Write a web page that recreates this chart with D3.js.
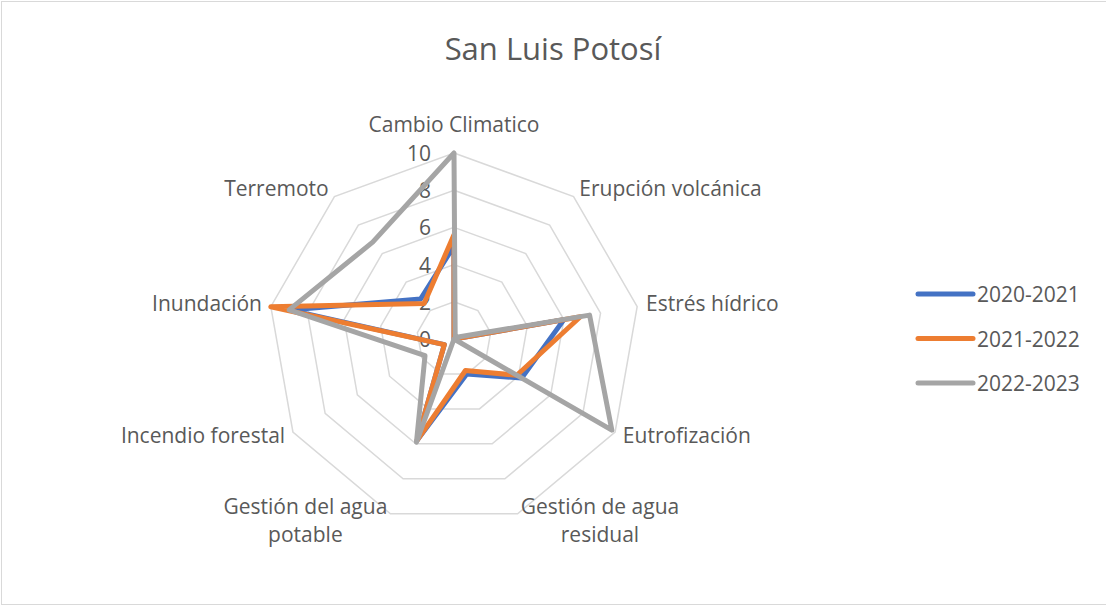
<!DOCTYPE html>
<html>
<head>
<meta charset="utf-8">
<script src="https://cdn.jsdelivr.net/npm/d3@7"></script>
<style>
  body { margin: 0; background: #fff; }
  svg { display: block; font-family: "Open Sans", sans-serif; }
</style>
</head>
<body>
<div id="chart"></div>
<script>
var width = 1106, height = 607;

// data
var categories = [
    ["Cambio Climatico"],
    ["Erupción volcánica"],
    ["Estrés hídrico"],
    ["Eutrofización"],
    ["Gestión de agua", "residual"],
    ["Gestión del agua", "potable"],
    ["Incendio forestal"],
    ["Inundación"],
    ["Terremoto"]
];
var seriesNames = ["2020-2021", "2021-2022", "2022-2023"];
var values2020 = [5, 0, 6, 4.2, 2, 5.8, 0.6, 9, 2.8];
var values2021 = [5.6, 0, 6.9, 3.9, 1.8, 5.8, 0.6, 10, 2.5];
var values2022 = [10, 0.1, 7.4, 9.8, 0, 5.9, 1.8, 9, 6.8];
var tickValues = [0, 2, 4, 6, 8, 10];
var colors = ["#4472C4", "#ED7D31", "#A5A5A5"];

var allSeries = [values2020, values2021, values2022];

var cx = 454, cy = 339, radius = 186;
var textColor = "#595959";

var svg = d3.select("#chart").append("svg")
    .attr("width", width)
    .attr("height", height);

// chart border
svg.append("rect")
    .attr("x", 1.5).attr("y", 1.5)
    .attr("width", width).attr("height", 603)
    .attr("fill", "#fff")
    .attr("stroke", "#D9D9D9")
    .attr("stroke-width", 1);

svg.append("text")
    .attr("x", width / 2)
    .attr("y", 48)
    .attr("text-anchor", "middle")
    .attr("dominant-baseline", "central")
    .style("font-size", "31px")
    .style("fill", textColor)
    .text("San Luis Potosí");

var r = d3.scaleLinear().domain([0, 10]).range([0, radius]);
var angle = d3.scaleLinear().domain([0, categories.length]).range([0, 2 * Math.PI]);

function px(i, v) { return cx + r(v) * Math.sin(angle(i)); }
function py(i, v) { return cy - r(v) * Math.cos(angle(i)); }

var g = svg.append("g");

// grid rings
g.selectAll("path.ring")
    .data(tickValues.filter(function(t) { return t > 0; }))
    .enter().append("path")
    .attr("class", "ring")
    .attr("fill", "none")
    .attr("stroke", "#D9D9D9")
    .attr("stroke-width", 1.5)
    .attr("d", function(t) {
        var pts = categories.map(function(c, i) { return [px(i, t), py(i, t)]; });
        return d3.line()(pts) + "Z";
    });

// tick labels
g.selectAll("text.tick")
    .data(tickValues)
    .enter().append("text")
    .attr("class", "tick")
    .attr("x", cx - 23)
    .attr("y", function(t) { return cy - r(t); })
    .attr("text-anchor", "end")
    .attr("dominant-baseline", "central")
    .style("font-size", "21px")
    .style("fill", textColor)
    .text(function(t) { return t; });

// series
var line = d3.line()
    .x(function(d) { return d[0]; })
    .y(function(d) { return d[1]; })
    .curve(d3.curveLinearClosed);

g.selectAll("path.series")
    .data(allSeries)
    .enter().append("path")
    .attr("class", "series")
    .attr("fill", "none")
    .attr("stroke", function(d, k) { return colors[k]; })
    .attr("stroke-width", 5)
    .attr("stroke-linejoin", "round")
    .attr("d", function(vals) {
        return line(vals.map(function(v, i) { return [px(i, v), py(i, v)]; }));
    });

// category labels
var labelR = 195, lineH = 28;
categories.forEach(function(lines, i) {
    var s = Math.sin(angle(i)), c = Math.cos(angle(i));
    var x = cx + labelR * s, y = cy - labelR * c;
    var t = g.append("text")
        .style("font-size", "21px")
        .style("fill", textColor)
        .attr("text-anchor", "middle")
        .attr("dominant-baseline", "central");
    lines.forEach(function(l, k) {
        t.append("tspan").attr("x", 0).attr("y", k * lineH).text(l);
    });
    var w = 0;
    t.selectAll("tspan").each(function() { w = Math.max(w, this.getComputedTextLength()); });
    var blockH = lines.length * lineH;
    var ox = x, oy = y - (lines.length - 1) * lineH / 2;
    if (s > 0.1) ox = x + w / 2;
    else if (s < -0.1) ox = x - w / 2;
    if (Math.abs(s) <= 0.1) oy = c > 0 ? y - blockH / 2 - 4 : y + 8;
    t.attr("transform", "translate(" + ox + "," + (oy - 2) + ")");
});

// legend
var legend = svg.append("g").selectAll("g")
    .data(seriesNames)
    .enter().append("g")
    .attr("transform", function(d, k) { return "translate(918," + (294 + k * 44.5) + ")"; });

legend.append("line")
    .attr("x1", 0).attr("x2", 55)
    .attr("stroke", function(d, k) { return colors[k]; })
    .attr("stroke-width", 5)
    .attr("stroke-linecap", "round");

legend.append("text")
    .attr("x", 59)
    .attr("dominant-baseline", "central")
    .style("font-size", "21px")
    .style("fill", textColor)
    .text(function(d) { return d; });
</script>
</body>
</html>
